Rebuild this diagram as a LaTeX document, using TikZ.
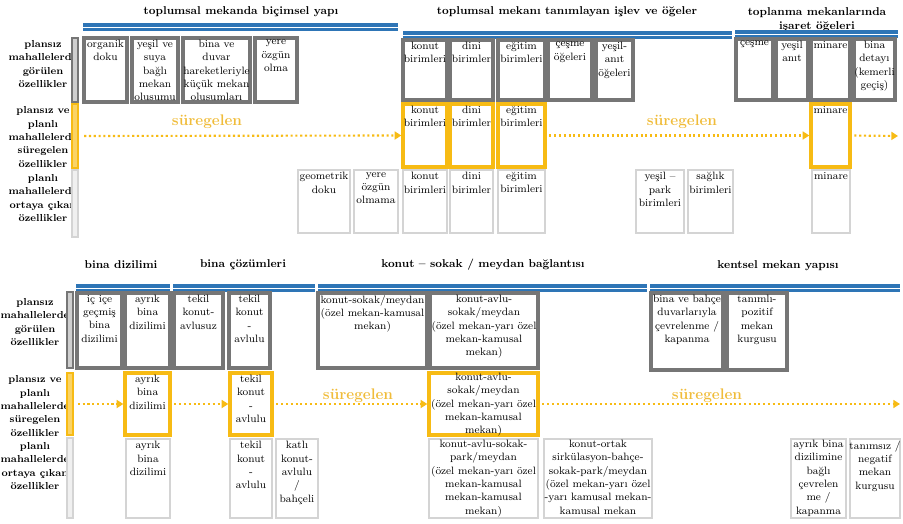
\documentclass[tikz,border=0pt]{standalone}
\usepackage{fontspec}
\usetikzlibrary{arrows.meta,positioning,fit}
\definecolor{barblue}{RGB}{46,117,182}
\definecolor{koyu}{RGB}{118,118,118}
\definecolor{acik}{RGB}{212,212,212}
\definecolor{sari}{RGB}{247,187,20}
\definecolor{suretxt}{RGB}{240,188,58}

\begin{document}
\begin{tikzpicture}[
  x=0.75pt, y=-0.75pt,
  gbox/.style={draw=koyu, line width=2.4pt, inner sep=0pt},
  lbox/.style={draw=acik, line width=2.2pt, inner sep=0pt},
  ybox/.style={draw=sari, line width=2.5pt, inner sep=0pt},
  gbar/.style={draw=koyu, fill=koyu!35, line width=1.2pt, inner sep=0pt},
  lbar/.style={draw=acik, fill=acik!35, line width=1.2pt, inner sep=0pt},
  ybar/.style={draw=sari, fill=sari!65, line width=1.2pt, inner sep=0pt},
  txt/.style={anchor=north, align=center, inner sep=1pt, yshift=-1.6pt,
              font=\fontsize{8}{10}\selectfont},
  rowlab/.style={align=center, inner sep=0pt, font=\fontsize{7.6}{10}\selectfont\bfseries},
  head/.style={align=center, inner sep=0pt, font=\fontsize{8.5}{10.5}\selectfont\bfseries},
  sure/.style={inner sep=0pt, text=suretxt, font=\fontsize{11.5}{12}\selectfont\bfseries},
  bar/.style={draw=barblue, line width=5.4pt, postaction={draw=white, line width=0.6pt}},
  flow/.style={draw=sari, line width=1.6pt, dash pattern=on 1.6pt off 2pt,
               -{Triangle[width=6pt,length=5pt]}}
]
  \useasboundingbox (0,0) rectangle (903,524);

  % headers of the upper table
  \node[head] (h1) at (241,12) {toplumsal mekanda biçimsel yapı};
  \node[head] (h2) at (567,12) {toplumsal mekanı tanımlayan işlev ve öğeler};
  \node[head] (h3) at (817,20) {toplanma mekanlarında\\işaret öğeleri};
  \draw[bar] (83,27) -- (398,27);
  \draw[bar] (403,35) -- (732,35);
  \draw[bar] (735,34) -- (898,34);

  % row labels and side bars
  \node[rowlab] (r11) at (43,64)  {plansız\\mahallelerde\\görülen\\özellikler};
  \node[rowlab] (r12) at (43,137) {plansız ve\\planlı\\mahallelerde\\süregelen\\özellikler};
  \node[rowlab] (r13) at (43,198) {planlı\\mahallelerde\\ortaya çıkan\\özellikler};
  \node[gbar, fit={(72,38) (78,102)}]  (gb1) {};
  \node[ybar, fit={(72,104) (78,168)}] (yb1) {};
  \node[lbar, fit={(72,170) (78,237)}] (lb1) {};

  % plansiz: seen features
  \node[gbox, fit={(84,38) (127,102)}]   (g11) {};
  \node[txt] at (g11.north) {organik\\doku};
  \node[gbox, fit={(132,38) (178,102)}]  (g12) {};
  \node[txt] at (g12.north) {yeşil ve\\suya\\bağlı\\mekan\\olusumu};
  \node[gbox, fit={(183,38) (250,102)}]  (g13) {};
  \node[txt] at (g13.north) {bina ve\\duvar\\hareketleriyle\\küçük mekan\\olusumları};
  \node[gbox, fit={(255,38) (297,102)}]  (g14) {};
  \node[txt] at (g14.north) {yere\\özgün\\olma};
  \node[gbox, fit={(403,40) (447,100)}]  (g15) {};
  \node[txt] at (g15.north) {konut\\birimleri};
  \node[gbox, fit={(450,40) (493,100)}]  (g16) {};
  \node[txt] at (g16.north) {dini\\birimler};
  \node[gbox, fit={(498,40) (545,100)}]  (g17) {};
  \node[txt] at (g17.north) {eğitim\\birimleri};
  \node[gbox, fit={(548,40) (592,100)}]  (g18) {};
  \node[txt] at (g18.north) {çeşme\\öğeleri};
  \node[gbox, fit={(596,40) (633,100)}]  (g19) {};
  \node[txt] at (g19.north) {yeşil-\\anıt\\öğeleri};
  \node[gbox, fit={(736,39) (773,100)}]  (g110) {};
  \node[txt] at (g110.north) {çeşme};
  \node[gbox, fit={(776,39) (808,100)}]  (g111) {};
  \node[txt] at (g111.north) {yeşil\\anıt};
  \node[gbox, fit={(811,39) (850,100)}]  (g112) {};
  \node[txt] at (g112.north) {minare};
  \node[gbox, fit={(854,39) (895,100)}]  (g113) {};
  \node[txt] at (g113.north) {bina\\detayı\\(kemerli\\geçiş)};

  % continuing features
  \node[ybox, fit={(403,104) (447,167)}] (y11) {};
  \node[txt] at (y11.north) {konut\\birimleri};
  \node[ybox, fit={(450,104) (493,167)}] (y12) {};
  \node[txt] at (y12.north) {dini\\birimler};
  \node[ybox, fit={(498,104) (545,167)}] (y13) {};
  \node[txt] at (y13.north) {eğitim\\birimleri};
  \node[ybox, fit={(811,104) (850,167)}] (y14) {};
  \node[txt] at (y14.north) {minare};
  \node[sure] (s1) at (207,122) {süregelen};
  \node[sure] (s2) at (682,122) {süregelen};
  \coordinate (e1) at (898,136);
  \draw[flow, shorten <=4pt] (yb1.east) -- (y11.west);
  \draw[flow, shorten <=2pt] (y13.east) -- (y14.west);
  \draw[flow, shorten <=2pt] (y14.east) -- (e1);

  % planli: new features
  \node[lbox, fit={(298,170) (350,233)}] (l11) {};
  \node[txt] at (l11.north) {geometrik\\doku};
  \node[lbox, fit={(354,170) (398,233)}] (l12) {};
  \node[txt] at (l12.north) {yere\\özgün\\olmama};
  \node[lbox, fit={(403,170) (447,233)}] (l13) {};
  \node[txt] at (l13.north) {konut\\birimleri};
  \node[lbox, fit={(450,170) (493,233)}] (l14) {};
  \node[txt] at (l14.north) {dini\\birimler};
  \node[lbox, fit={(498,170) (545,233)}] (l15) {};
  \node[txt] at (l15.north) {eğitim\\birimleri};
  \node[lbox, fit={(636,170) (684,233)}] (l16) {};
  \node[txt] at (l16.north) {yeşil –\\park\\birimleri};
  \node[lbox, fit={(688,170) (733,233)}] (l17) {};
  \node[txt] at (l17.north) {sağlık\\birimleri};
  \node[lbox, fit={(812,170) (850,233)}] (l18) {};
  \node[txt] at (l18.north) {minare};

  % headers of the lower table
  \node[head] (h4) at (121,265) {bina dizilimi};
  \node[head] (h5) at (243,265) {bina çözümleri};
  \node[head] (h6) at (483,265) {konut – sokak / meydan bağlantısı};
  \node[head] (h7) at (778,266) {kentsel mekan yapısı};
  \draw[bar] (76,288) -- (170,288);
  \draw[bar] (173,288) -- (315,288);
  \draw[bar] (318,288) -- (647,288);
  \draw[bar] (650,288) -- (900,288);

  \node[rowlab] (r21) at (35,322) {plansız\\mahallelerde\\görülen\\özellikler};
  \node[rowlab] (r22) at (35,406) {plansız ve\\planlı\\mahallelerde\\süregelen\\özellikler};
  \node[rowlab] (r23) at (35,466) {planlı\\mahallelerde\\ortaya çıkan\\özellikler};
  \node[gbar, fit={(67,292) (73,368)}]  (gb2) {};
  \node[ybar, fit={(67,373) (73,435)}]  (yb2) {};
  \node[lbar, fit={(67,438) (73,518)}]  (lb2) {};

  \node[gbox, fit={(77,293) (122,368)}]  (g21) {};
  \node[txt] at (g21.north) {iç içe\\geçmiş\\bina\\dizilimi};
  \node[gbox, fit={(125,293) (170,368)}] (g22) {};
  \node[txt] at (g22.north) {ayrık\\bina\\dizilimi};
  \node[gbox, fit={(174,293) (223,368)}] (g23) {};
  \node[txt] at (g23.north) {tekil\\konut-\\avlusuz};
  \node[gbox, fit={(229,293) (270,368)}] (g24) {};
  \node[txt] at (g24.north) {tekil\\konut\\-\\avlulu};
  \node[gbox, fit={(318,293) (427,368)}] (g25) {};
  \node[txt] at (g25.north) {konut-sokak/meydan\\(özel mekan-kamusal\\mekan)};
  \node[gbox, fit={(430,293) (538,368)}] (g26) {};
  \node[txt] at (g26.north) {konut-avlu-\\sokak/meydan\\(özel mekan-yarı özel\\mekan-kamusal\\mekan)};
  \node[gbox, fit={(651,293) (723,370)}] (g27) {};
  \node[txt] at (g27.north) {bina ve bahçe\\duvarlarıyla\\çevrelenme /\\kapanma};
  \node[gbox, fit={(727,293) (787,370)}] (g28) {};
  \node[txt] at (g28.north) {tanımlı-\\pozitif\\mekan\\kurgusu};

  \node[ybox, fit={(125,373) (170,435)}] (y21) {};
  \node[txt] at (y21.north) {ayrık\\bina\\dizilimi};
  \node[ybox, fit={(230,373) (272,435)}] (y22) {};
  \node[txt] at (y22.north) {tekil\\konut\\-\\avlulu};
  \node[ybox, fit={(429,373) (538,435)}] (y23) {};
  \node[txt, yshift=1.4pt] at (y23.north) {konut-avlu-\\sokak/meydan\\(özel mekan-yarı özel\\mekan-kamusal\\mekan)};
  \node[sure] (s3) at (358,396) {süregelen};
  \node[sure] (s4) at (707,396) {süregelen};
  \coordinate (e2) at (900,404);
  \draw[flow, shorten <=3pt] (yb2.east) -- (y21.west);
  \draw[flow, shorten <=2pt] (y21.east) -- (y22.west);
  \draw[flow, shorten <=2pt] (y22.east) -- (y23.west);
  \draw[flow, shorten <=2pt] (y23.east) -- (e2);

  \node[lbox, fit={(126,439) (170,518)}] (l21) {};
  \node[txt] at (l21.north) {ayrık\\bina\\dizilimi};
  \node[lbox, fit={(230,439) (272,518)}] (l22) {};
  \node[txt] at (l22.north) {tekil\\konut\\-\\avlulu};
  \node[lbox, fit={(276,439) (318,518)}] (l23) {};
  \node[txt] at (l23.north) {katlı\\konut-\\avlulu\\/\\bahçeli};
  \node[lbox, fit={(429,439) (538,518)}] (l24) {};
  \node[txt, yshift=1pt] at (l24.north) {konut-avlu-sokak-\\park/meydan\\(özel mekan-yarı özel\\mekan-kamusal\\mekan-kamusal\\mekan)};
  \node[lbox, fit={(544,439) (652,518)}] (l25) {};
  \node[txt, yshift=1pt] at (l25.north) {konut-ortak\\sirkülasyon-bahçe-\\sokak-park/meydan\\(özel mekan-yarı özel\\-yarı kamusal mekan-\\kamusal mekan};
  \node[lbox, fit={(791,439) (846,518)}] (l26) {};
  \node[txt, yshift=1pt] at (l26.north) {ayrık bina\\dizilimine\\bağlı\\çevrelen\\me /\\kapanma};
  \node[lbox, fit={(850,439) (900,518)}] (l27) {};
  \node[txt] at (l27.north) {tanımsız /\\negatif\\mekan\\kurgusu};
\end{tikzpicture}
\end{document}
